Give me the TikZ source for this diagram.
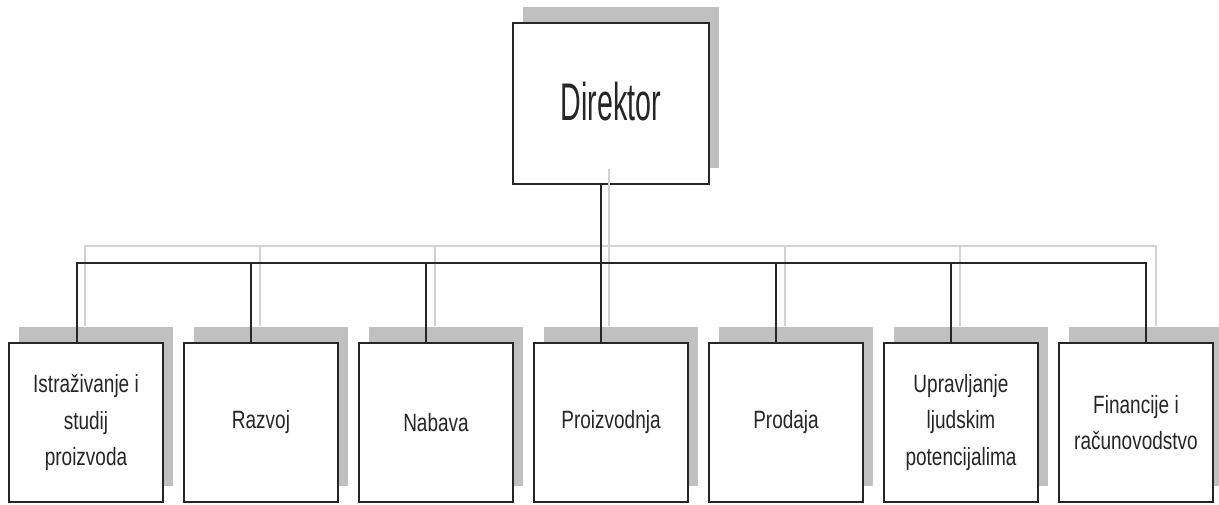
\documentclass[tikz,border=0pt]{standalone}
\usepackage{fontspec}
\setmainfont{Liberation Sans}
\newfontfamily\bossfont[FakeStretch=0.54]{Liberation Sans}
\newfontfamily\deptfont[FakeStretch=0.76]{Liberation Sans}
\usetikzlibrary{shadows}
\definecolor{shadowgray}{HTML}{C0C0C0}
\definecolor{linegray}{HTML}{D2D2D2}
\definecolor{inkgray}{HTML}{262626}
\tikzset{
  box/.style={draw=inkgray, line width=1.8pt, fill=white, inner sep=0pt, align=center, text=inkgray,
    drop shadow={shadow xshift=10pt, shadow yshift=16pt, fill=shadowgray, opacity=1}},
  boss/.style={box, minimum width=196pt, minimum height=161pt, font=\bossfont\fontsize{53}{60}\selectfont},
  dept/.style={box, minimum width=154pt, minimum height=159pt, font=\deptfont\fontsize{25}{36.5}\selectfont},
  link/.style={line width=1.8pt, draw=inkgray},
  ghost/.style={line width=1.3pt, draw=linegray}
}
\begin{document}
\begin{tikzpicture}[x=1pt,y=1pt]
\useasboundingbox (0,0) rectangle (1219,504);

\node[boss] (dir) at (611,400.5) {\raisebox{5pt}{Direktor}};

\foreach \i/\name in {1/{Istraživanje i\\studij\\proizvoda},2/Razvoj,3/Nabava,4/Proizvodnja,5/Prodaja,
  6/{Upravljanje\\ljudskim\\potencijalima},7/{Financije i\\računovodstvo}}
  \node[dept] (d\i) at ({86+175*(\i-1)},81.5) {\name};

% light lines of the shadow layer
\draw[ghost] ([shift={(-2pt,16pt)}]dir.south) -- ([shift={(-2pt,16pt)}]d4.north);
\draw[ghost] ([shift={(-1pt,16pt)}]d1.north) -- ++(0,80) -| ([shift={(20pt,16pt)}]d7.north);
\foreach \i in {2,3,5,6}
  \draw[ghost] ([shift={(-1pt,16pt)}]d\i.north) -- ++(0,80);

% connectors
\draw[link] ([xshift=-10pt]dir.south) -- ([xshift=-10pt]d4.north);
\draw[link] ([xshift=-9pt]d1.north) -- ++(0,79) -| ([xshift=10pt]d7.north);
\foreach \i in {2,3,5,6}
  \draw[link] ([xshift=-10pt]d\i.north) -- ++(0,79);

\end{tikzpicture}
\end{document}
